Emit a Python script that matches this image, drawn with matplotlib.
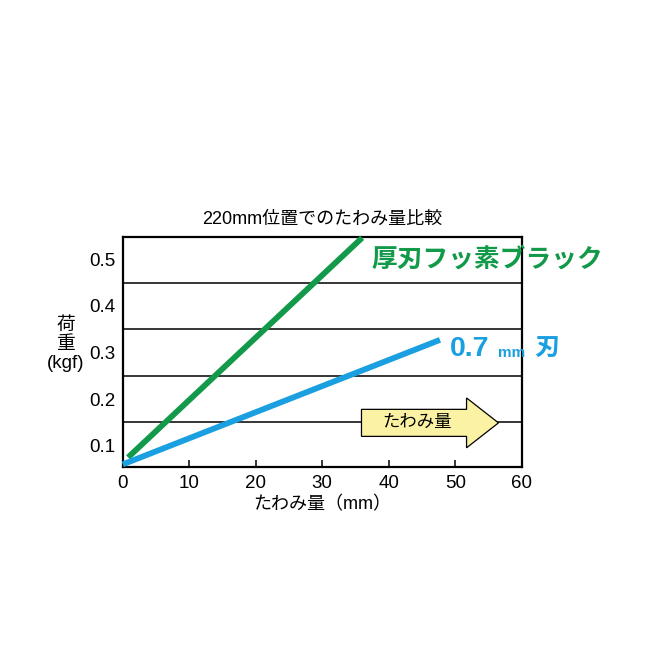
import matplotlib.pyplot as plt
from matplotlib.patches import FancyArrow

plt.rcParams['font.family'] = ['Liberation Sans', 'Noto Sans CJK JP', 'DejaVu Sans']

# data
thick_x = [0.8, 36.0]
thick_y = [0.075, 0.546]
thin_x = [0.0, 47.7]
thin_y = [0.06, 0.327]
ytick_vals = [0.1, 0.2, 0.3, 0.4, 0.5]
grid_vals = [0.15, 0.25, 0.35, 0.45]
xtick_vals = [0, 10, 20, 30, 40, 50, 60]

green = '#129a4a'
blue = '#1a9fe0'

fig = plt.figure(figsize=(6.53, 6.53), dpi=100)
ax = fig.add_axes([0.188, 0.2853, 0.611, 0.352])

ax.set_xlim(0, 60)
ax.set_ylim(0.055, 0.548)

for g in grid_vals:
    ax.axhline(g, color='black', lw=1.1, zorder=1)

ax.plot(thick_x, thick_y, color=green, lw=4.2, solid_capstyle='butt', zorder=3, clip_on=False)
ax.plot(thin_x, thin_y, color=blue, lw=4.2, solid_capstyle='butt', zorder=3, clip_on=False)

# deflection arrow
arr = FancyArrow(35.9, 0.149, 20.6, 0, width=0.058, head_width=0.107, head_length=4.8,
                 length_includes_head=True, facecolor='#fbf3a3', edgecolor='black', lw=0.9, zorder=4)
ax.add_patch(arr)
ax.text(44.2, 0.149, 'たわみ量', fontsize=12.5, ha='center', va='center', zorder=5)

# series labels
ax.text(37.4, 0.5, '厚刃フッ素ブラック', color=green, fontsize=18.5, fontweight='bold',
        ha='left', va='center', clip_on=False)
ax.text(49.2, 0.307, '0.7', color=blue, fontsize=20.5, fontweight='bold',
        ha='left', va='center', clip_on=False)
ax.text(56.4, 0.298, 'mm', color=blue, fontsize=11, fontweight='bold',
        ha='left', va='center', clip_on=False)
ax.text(61.8, 0.307, '刃', color=blue, fontsize=18, fontweight='bold',
        ha='left', va='center', clip_on=False)

ax.set_xticks(xtick_vals)
ax.set_yticks(ytick_vals)
ax.set_yticklabels([str(v) for v in ytick_vals])
ax.tick_params(axis='x', direction='in', length=5, width=1.1, pad=6, labelsize=13.5)
ax.tick_params(axis='y', length=0, pad=5, labelsize=13.5)
for s in ax.spines.values():
    s.set_linewidth(1.6)

ax.set_title('220mm位置でのたわみ量比較', fontsize=13, pad=9)
ax.set_xlabel('たわみ量（mm）', fontsize=13, labelpad=3)
fig.text(0.101, 0.472, '荷\n重\n(kgf)', fontsize=13.5, ha='center', va='center', linespacing=1.15)

fig.savefig('out.png', dpi=100)
